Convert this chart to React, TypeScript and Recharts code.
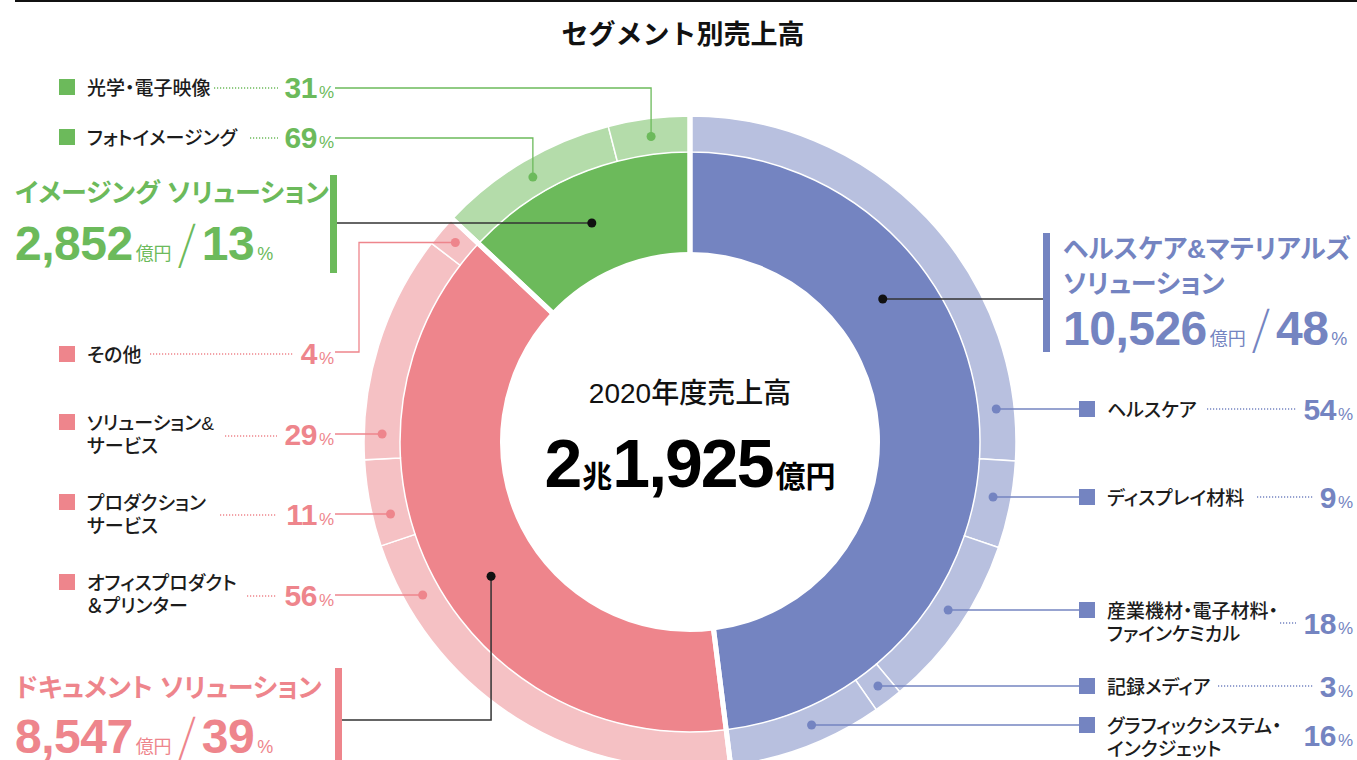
import React from "react";
import { PieChart, Pie, Cell } from "recharts";

// 2020年度 セグメント別売上高（億円）
const segmentNames = ["ヘルスケア&マテリアルズ\nソリューション", "ドキュメント ソリューション", "イメージング ソリューション"];
const segmentSales = [10526, 8547, 2852];
const segmentShare = [48, 39, 13];

// セグメント内の構成比（%）
const healthcareNames = ["ヘルスケア", "ディスプレイ材料", "産業機材・電子材料・\nファインケミカル", "記録メディア", "グラフィックシステム・\nインクジェット"];
const healthcareShare = [54, 9, 18, 3, 16];
const documentNames = ["オフィスプロダクト\n＆プリンター", "プロダクション\nサービス", "ソリューション&\nサービス", "その他"];
const documentShare = [56, 11, 29, 4];
const imagingNames = ["フォトイメージング", "光学・電子映像"];
const imagingShare = [69, 31];

const mainColors = ["#7484c1", "#ee858c", "#6cba5b"];
const lightColors = ["#b8c0df", "#f5c1c4", "#b4dcaa"];

const FONT = '"Liberation Sans", "Noto Sans CJK JP", sans-serif';
const PALT = { fontFeatureSettings: '"palt" 1' };
const W = 1357;
const H = 760;
const CX = 690;
const CY = 442;
const RAD = Math.PI / 180;

const innerData = segmentNames.map((name, i) => ({ name, value: segmentSales[i], share: segmentShare[i], group: i }));
const subGroups: [string[], number[]][] = [
  [healthcareNames, healthcareShare],
  [documentNames, documentShare],
  [imagingNames, imagingShare],
];
const outerData = subGroups.flatMap(([names, shares], g) =>
  names.map((name, j) => ({ name, share: shares[j], value: (segmentSales[g] * shares[j]) / 100, group: g }))
);

// label placement (page layout only)
const groupLayout = [
  { side: "R", x: 1063, barX: 1043, barTop: 233, barBottom: 352, titleY: 258, valueY: 345, kind: "h", y: 299, at: 0.5 },
  { side: "L", x: 15, barX: 335, barTop: 668, barBottom: 780, titleY: 697, valueY: 753, kind: "v", y: 720, at: 0.45 },
  { side: "L", x: 15, barX: 330, barTop: 175, barBottom: 273, titleY: 202, valueY: 260, kind: "h", y: 223, at: 0.5 },
];

const subLayout: any[] = [
  { row: 409, nameY: 417, dots: [1207, 1296], pctY: 420 },
  { row: 497, nameY: 505, dots: [1257, 1314], pctY: 508 },
  { row: 610, nameY: 618, dots: [1280, 1296], dotY: 623, pctY: 634 },
  { row: 686, nameY: 694, dots: [1218, 1314], pctY: 697 },
  { row: 725, nameY: 733, pctY: 746 },
  { row: 595, nameY: 590, dots: [247, 277], dotY: 596, pctY: 606 },
  { row: 514, nameY: 510, dots: [220, 277], dotY: 515, pctY: 525 },
  { row: 434, nameY: 430, dots: [225, 277], dotY: 436, pctY: 445 },
  { row: 352, nameY: 362, dots: [150, 293], dotY: 354, pctY: 364, elbow: true, bendX: 359 },
  { row: 138, nameY: 145, dots: [250, 278], pctY: 148, elbow: true },
  { row: 88, nameY: 95, dots: [214, 278], pctY: 98, elbow: true },
];

const polar = (cx: number, cy: number, r: number, a: number) => ({
  x: cx + r * Math.cos(-a * RAD),
  y: cy + r * Math.sin(-a * RAD),
});

const fmt = (n: number) => String(n).replace(/\B(?=(\d{3})+(?!\d))/g, ",");

const renderSubLabel = (p: any) => {
  const d = outerData[p.index];
  const lay = subLayout[p.index];
  const color = mainColors[d.group];
  const right = d.group === 0;
  const rm = (p.innerRadius + p.outerRadius) / 2;
  const anchorX = right ? 1079 : 335;
  const squareX = right ? 1079 : 59;
  const nameX = right ? 1107 : 87;
  const pctX = right ? 1353 : 334;
  let dot;
  let path;
  if (lay.elbow) {
    dot = polar(p.cx, p.cy, rm, p.midAngle);
    path = lay.bendX
      ? `M${anchorX},${lay.row}H${lay.bendX}V${dot.y}H${dot.x}`
      : `M${anchorX},${lay.row}H${dot.x}V${dot.y}`;
  } else {
    const dy = lay.row - p.cy;
    const dx = Math.sqrt(rm * rm - dy * dy);
    dot = { x: p.cx + (right ? dx : -dx), y: lay.row };
    path = `M${anchorX},${lay.row}H${dot.x}`;
  }
  const lines = d.name.split("\n");
  return (
    <g key={`sub-${p.index}`}>
      <path d={path} fill="none" stroke={color} strokeWidth={1.3} />
      <circle cx={dot.x} cy={dot.y} r={4.5} fill={color} />
      <rect x={squareX} y={lay.nameY - 16} width={16} height={16} fill={color} />
      {lines.map((t: string, k: number) => (
        <text key={k} x={nameX} y={lay.nameY + k * 23} fontFamily={FONT} fontSize={19} fontWeight={500} fill="#1c1c1c" style={PALT}>
          {t}
        </text>
      ))}
      {lay.dots && (
        <line
          x1={lay.dots[0]}
          x2={lay.dots[1]}
          y1={lay.dotY ?? lay.row}
          y2={lay.dotY ?? lay.row}
          stroke={color}
          strokeWidth={1.4}
          strokeDasharray="1.2 1.8"
        />
      )}
      <text x={pctX} y={lay.pctY} textAnchor="end" fontFamily={FONT} fill={color}>
        <tspan fontSize={30} fontWeight={700} letterSpacing={-0.5}>
          {d.share}
        </tspan>
        <tspan fontSize={17} dx={2}>
          %
        </tspan>
      </text>
    </g>
  );
};

const renderGroupLabel = (p: any) => {
  const i = p.index;
  const d = innerData[i];
  const lay = groupLayout[i];
  const color = mainColors[i];
  const rm = (p.innerRadius + p.outerRadius) / 2;
  const anchorX = lay.side === "R" ? lay.barX : lay.barX + 7;
  let dot;
  let path;
  if (lay.kind === "h") {
    const dy = lay.y - p.cy;
    const dx = Math.sqrt(rm * rm - dy * dy);
    dot = { x: p.cx + (lay.side === "R" ? dx : -dx), y: lay.y };
    path = `M${anchorX},${lay.y}H${dot.x}`;
  } else {
    const a = p.startAngle + lay.at * (p.endAngle - p.startAngle);
    dot = polar(p.cx, p.cy, rm, a);
    path = `M${anchorX},${lay.y}H${dot.x}V${dot.y}`;
  }
  const lines = d.name.split("\n");
  return (
    <g key={`grp-${i}`}>
      <path d={path} fill="none" stroke="#333" strokeWidth={1.5} />
      <circle cx={dot.x} cy={dot.y} r={4.5} fill="#111" />
      <rect x={lay.barX} y={lay.barTop} width={7} height={lay.barBottom - lay.barTop} fill={color} />
      {lines.map((t: string, k: number) => (
        <text key={k} x={lay.x} y={lay.titleY + k * 35} fontFamily={FONT} fontSize={26} fontWeight={700} fill={color} style={PALT}>
          {t}
        </text>
      ))}
      <text x={lay.x} y={lay.valueY} fontFamily={FONT} fill={color}>
        <tspan fontSize={48} fontWeight={700} letterSpacing={-0.5}>
          {fmt(d.value)}
        </tspan>
        <tspan fontSize={18} dx={3}>
          億円
        </tspan>
        <tspan fontSize={46} fontWeight={200} dx={6} fontFamily='"Noto Sans CJK JP", sans-serif'>
          /
        </tspan>
        <tspan fontSize={48} fontWeight={700} dx={6} letterSpacing={-0.5}>
          {d.share}
        </tspan>
        <tspan fontSize={18} dx={3}>
          %
        </tspan>
      </text>
    </g>
  );
};

const total = segmentSales.reduce((s, v) => s + v, 0);

export default function App() {
  return (
    <div style={{ position: "absolute", left: 0, top: 0, width: W, height: H, background: "#fff", overflow: "hidden" }}>
      <PieChart width={W} height={H} margin={{ top: 0, right: 0, bottom: 0, left: 0 }}>
        <Pie
          data={innerData}
          dataKey="value"
          cx={CX}
          cy={CY}
          innerRadius={190}
          outerRadius={290}
          startAngle={90}
          endAngle={-270}
          stroke="none"
          isAnimationActive={false}
        >
          {innerData.map((d, i) => (
            <Cell key={i} fill={mainColors[d.group]} />
          ))}
        </Pie>
        <Pie
          data={outerData}
          dataKey="value"
          cx={CX}
          cy={CY}
          innerRadius={290}
          outerRadius={326}
          startAngle={90}
          endAngle={-270}
          stroke="#fff"
          strokeWidth={1.5}
          isAnimationActive={false}
        >
          {outerData.map((d, i) => (
            <Cell key={i} fill={lightColors[d.group]} />
          ))}
        </Pie>
        {/* wide white gaps between segments */}
        <Pie
          data={innerData}
          dataKey="value"
          cx={CX}
          cy={CY}
          innerRadius={184}
          outerRadius={333}
          startAngle={90}
          endAngle={-270}
          fill="none"
          stroke="#fff"
          strokeWidth={5}
          isAnimationActive={false}
        />
        <Pie
          data={innerData}
          dataKey="value"
          cx={CX}
          cy={CY}
          innerRadius={190}
          outerRadius={290}
          startAngle={90}
          endAngle={-270}
          fill="none"
          stroke="none"
          label={renderGroupLabel}
          labelLine={false}
          isAnimationActive={false}
        />
        <Pie
          data={outerData}
          dataKey="value"
          cx={CX}
          cy={CY}
          innerRadius={290}
          outerRadius={326}
          startAngle={90}
          endAngle={-270}
          fill="none"
          stroke="none"
          label={renderSubLabel}
          labelLine={false}
          isAnimationActive={false}
        />
      </PieChart>
      <svg width={W} height={H} style={{ position: "absolute", left: 0, top: 0, pointerEvents: "none" }}>
        <line x1={15} y1={1} x2={W} y2={1} stroke="#111" strokeWidth={2} />
        <text x={683} y={44} textAnchor="middle" fontFamily={FONT} fontSize={27} fontWeight={700} fill="#111">
          セグメント別売上高
        </text>
        <text x={CX} y={403} textAnchor="middle" fontFamily={FONT} fontSize={28} fontWeight={500} fill="#111">
          2020年度売上高
        </text>
        <text x={CX} y={487} textAnchor="middle" fontFamily={FONT} fontWeight={700} fill="#000">
          <tspan fontSize={68}>{Math.floor(total / 10000)}</tspan>
          <tspan fontSize={30}>兆</tspan>
          <tspan fontSize={68} letterSpacing={-2}>
            {fmt(total % 10000)}
          </tspan>
          <tspan fontSize={30} dx={3}>
            億円
          </tspan>
        </text>
      </svg>
    </div>
  );
}
